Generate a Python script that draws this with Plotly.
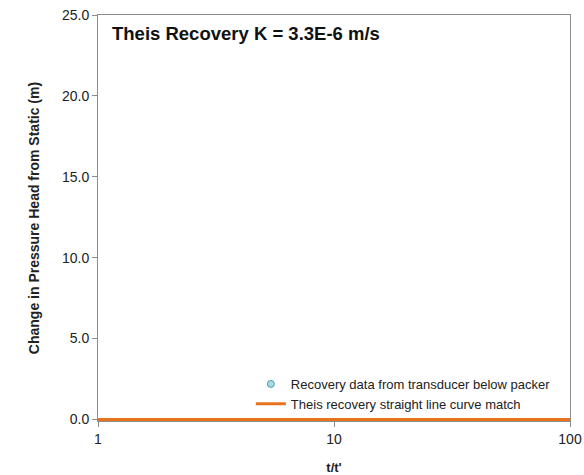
import plotly.graph_objects as go

# Data
recovery_t = [None]      # t/t' values (no visible points in reference)
recovery_head = [None]   # change in head (m)
theis_t = [1, 100]
theis_head = [0.0, 0.0]

x_tickvals = [1, 10, 100]
x_ticktext = ["1", "10", "100"]
y_tickvals = [0, 5, 10, 15, 20, 25]

title_text = "Theis Recovery K = 3.3E-6 m/s"

fig = go.Figure()
fig.add_trace(go.Scatter(
    x=recovery_t, y=recovery_head, mode="markers",
    name="Recovery data from transducer below packer",
    marker=dict(symbol="circle", size=7, color="#A9D8E6",
                line=dict(color="#4A9BB5", width=1)),
))
fig.add_trace(go.Scatter(
    x=theis_t, y=theis_head, mode="lines",
    name="Theis recovery straight line curve match",
    line=dict(color="#E8731C", width=3),
    cliponaxis=False,
))

axis_common = dict(showline=True, linecolor="#8C8C8C", linewidth=1, mirror=True,
                   showgrid=False, zeroline=False, ticks="outside",
                   tickcolor="#8C8C8C", ticklen=5, automargin=False,
                   layer="below traces",
                   tickfont=dict(family="Liberation Sans, Arial", size=14, color="#222"))

fig.update_layout(
    width=584, height=475,
    margin=dict(l=98, r=14, t=15, b=54),
    paper_bgcolor="white", plot_bgcolor="white",
    font=dict(family="Liberation Sans, Arial", color="#222"),
    xaxis=dict(type="log", range=[0, 2], tickvals=x_tickvals, ticktext=x_ticktext,
               title=dict(text="<b>t/t'</b>", font=dict(size=13), standoff=17),
               **axis_common),
    yaxis=dict(range=[-0.1, 25], tickvals=y_tickvals, tickformat=".1f",
               title=dict(text="<b>Change in Pressure Head from Static (m)</b>",
                          font=dict(size=14), standoff=19),
               **axis_common),
    legend=dict(x=0.97, y=0.005, xanchor="right", yanchor="bottom",
                bgcolor="rgba(0,0,0,0)", font=dict(size=13, color="#222"),
                itemwidth=30),
    showlegend=True,
    annotations=[dict(text="<b>" + title_text + "</b>", xref="paper", yref="paper",
                      x=0.025, y=0.985, xanchor="left", yanchor="top",
                      showarrow=False, font=dict(size=18.5, color="#111"))],
)

fig.write_html("out.html", config={"displayModeBar": False},
               post_script="document.body.style.margin='0';")
